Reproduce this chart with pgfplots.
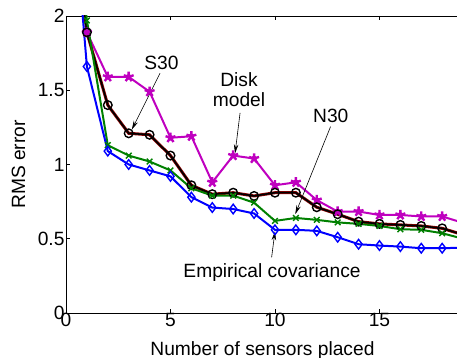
\documentclass[border=0pt]{standalone}
\usepackage{fontspec}
\setmainfont{Liberation Sans}
\usepackage{pgfplots}
\pgfplotsset{compat=1.18}
\usetikzlibrary{arrows.meta}
\definecolor{mmag}{rgb}{0.75,0,0.75}
\definecolor{mgreen}{rgb}{0,0.5,0}
\definecolor{mdred}{rgb}{0.55,0,0}
\newcommand\fs{\fontsize{19.2}{22}\selectfont}

\pgfplotstableread{
x y
0 3.36
1 1.66
2 1.09
3 1.00
4 0.96
5 0.92
6 0.78
7 0.71
8 0.70
9 0.67
10 0.56
11 0.56
12 0.553
13 0.51
14 0.463
15 0.454
16 0.447
17 0.436
18 0.436
19 0.44
}\blue
\pgfplotstableread{
x y
0 3.5
1 1.97
2 1.13
3 1.06
4 1.02
5 0.96
6 0.84
7 0.79
8 0.79
9 0.743
10 0.62
11 0.64
12 0.627
13 0.61
14 0.60
15 0.586
16 0.564
17 0.56
18 0.537
19 0.50
}\green
\pgfplotstableread{
x y
0 3.1
1 1.89
2 1.40
3 1.21
4 1.20
5 1.06
6 0.86
7 0.80
8 0.81
9 0.788
10 0.81
11 0.81
12 0.712
13 0.665
14 0.615
15 0.60
16 0.593
17 0.586
18 0.57
19 0.527
}\black
\pgfplotstableread{
x y
0 3.1
1 1.89
2 1.59
3 1.59
4 1.49
5 1.18
6 1.19
7 0.88
8 1.06
9 1.04
10 0.86
11 0.88
12 0.76
13 0.683
14 0.683
15 0.66
16 0.66
17 0.65
18 0.65
19 0.607
}\magenta

\begin{document}
\begin{tikzpicture}
\begin{axis}[
  scale only axis, width=418pt, height=297pt,
  xmin=0, xmax=20, ymin=0, ymax=2,
  xtick={0,5,10,15,20}, ytick={0,0.5,1,1.5,2},
  tick align=inside, major tick length=4pt,
  axis line style={line width=0.9pt},
  tick style={line width=0.9pt, black},
  /pgf/number format/assume math mode=true,
  ticklabel style={font=\fs},
  xticklabel style={yshift=3pt},
  yticklabel style={xshift=2pt},
  xlabel={Number of sensors placed},
  ylabel={RMS error},
  xlabel style={font=\fs, at={(axis description cs:0.47,-0.1420)}, anchor=base},
  ylabel style={font=\fs, at={(axis description cs:-0.098,0.5)}, anchor=base},
]
\addplot[color=mmag, line width=2pt, mark=star, mark size=5.2pt, mark options={solid, line width=2.4pt}] table[x=x,y=y] {\magenta};
\addplot[color=mmag, only marks, mark=*, mark size=2.6pt, mark options={solid, fill=mmag, draw=mmag}] table[x=x,y=y] {\magenta};
\addplot[color=mdred, line width=3pt] table[x=x,y=y] {\black};
\addplot[color=black, line width=1.6pt, mark=o, mark size=4.3pt, mark options={solid, line width=1.4pt}] table[x=x,y=y] {\black};
\addplot[color=mgreen, line width=2pt, mark=x, mark size=4pt, mark options={solid, line width=1.4pt}] table[x=x,y=y] {\green};
\addplot[color=blue, line width=2pt, mark=diamond, mark size=4.8pt, mark options={solid, line width=1.4pt}] table[x=x,y=y] {\blue};

\node[font=\fs, anchor=base] at (axis cs:4.57,1.6375) {S30};
\draw[line width=0.6pt, -{Stealth[length=9pt,width=4.5pt]}] (axis cs:4.5,1.615) -- (axis cs:3.15,1.235);
\node[font=\fs, align=center] at (axis cs:8.28,1.503) {Disk\\[-2pt]model};
\draw[line width=0.6pt, -{Stealth[length=9pt,width=4.5pt]}] (axis cs:8.33,1.348) -- (axis cs:8.09,1.075);
\node[font=\fs, anchor=base] at (axis cs:12.67,1.280) {N30};
\draw[line width=0.6pt, -{Stealth[length=9pt,width=4.5pt]}] (axis cs:12.66,1.255) -- (axis cs:10.97,0.665);
\node[font=\fs, anchor=base] at (axis cs:9.86,0.236) {Empirical covariance};
\draw[line width=0.6pt, -{Stealth[length=9pt,width=4.5pt]}] (axis cs:9.84,0.375) -- (axis cs:10.0,0.55);

\coordinate (ll) at (axis cs:0,0);
\coordinate (cut) at (axis cs:18.71,2);
\end{axis}
\pgfresetboundingbox
\useasboundingbox ([shift={(-66pt,-45pt)}]ll) rectangle ([shift={(0pt,16pt)}]cut);
\end{tikzpicture}
\end{document}
